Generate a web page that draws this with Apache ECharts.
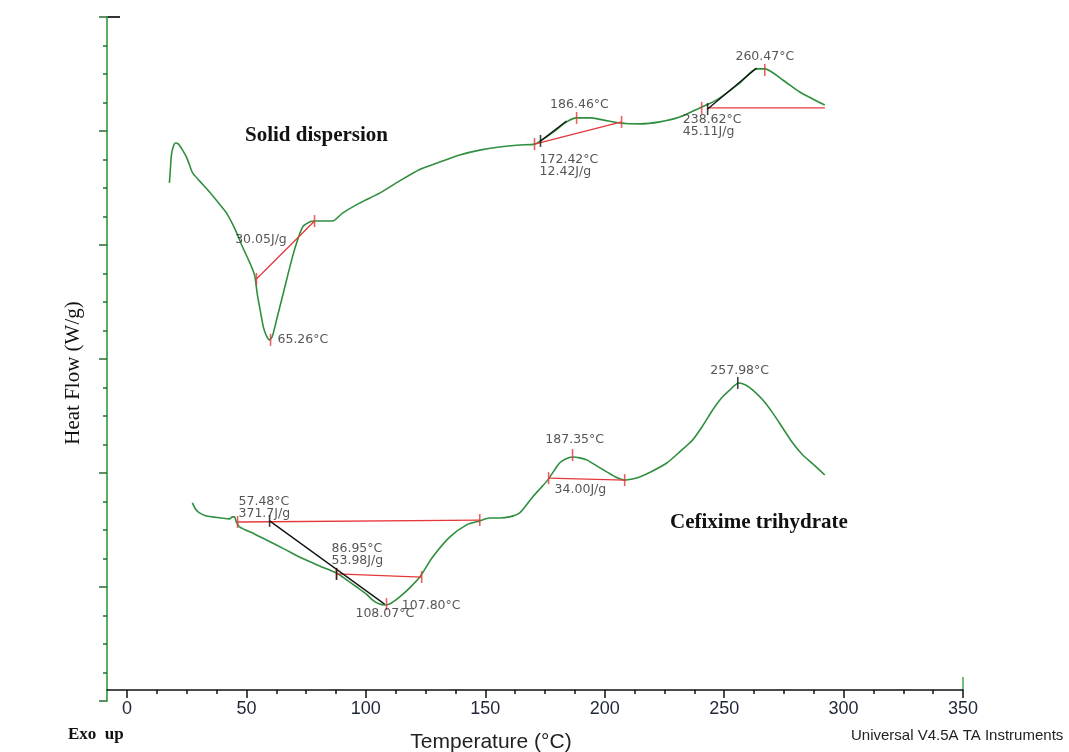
<!DOCTYPE html>
<html><head><meta charset="utf-8">
<script src="https://cdn.jsdelivr.net/npm/echarts@6/dist/echarts.min.js"></script>
<style>html,body{margin:0;padding:0;background:#fff}#c{width:1069px;height:752px}</style>
</head><body><div id="c"></div>
<script>
// Solid dispersion curve (temperature °C, heat flow arbitrary units)
const solidT = [18.1,18.5,18.95,19.8,20.6,21.9,23.6,25.2,26.5,27.8,30.7,34.9,39.0,42.0,45.3,48.7,51.6,53.7,54.9,56.2,57.4,58.7,60.0,61.2,62.9,65.0,67.1,69.2,71.3,73.8,76.7,78.8,83.0,86.3,90.5,97.6,106.0,114.4,122.8,131.1,139.5,147.9,156.2,164.6,170.8,173.8,179.2,184.2,188.4,193.9,199.3,206.4,214.8,223.2,231.5,239.9,247.0,256.6,263.7,267.1,274.6,281.7,292.2];
const solidHF = [18.18,18.65,19.16,19.47,19.58,19.54,19.33,19.09,18.81,18.53,18.25,17.86,17.44,17.12,16.60,15.93,15.40,14.95,14.25,13.65,13.12,12.81,12.67,12.81,13.37,14.07,14.77,15.47,16.07,16.63,16.81,16.84,16.84,16.84,17.12,17.47,17.82,18.25,18.65,18.91,19.16,19.33,19.44,19.51,19.54,19.68,20.0,20.32,20.46,20.46,20.39,20.28,20.25,20.32,20.49,20.81,21.09,21.68,22.18,22.18,21.79,21.37,20.91];
// Cefixime trihydrate curve
const cefT = [27.7,29.0,30.7,33.6,36.1,39.9,43.2,44.5,45.3,46.1,47.4,53.7,58.7,66.2,72.5,80.9,88.0,92.2,96.4,100.5,103.1,106.0,108.5,111.0,114.4,118.5,122.8,128.2,135.3,142.4,147.9,152.0,156.2,160.4,164.6,170.0,173.0,176.3,179.2,181.3,183.8,186.7,189.7,192.6,196.8,201.0,204.7,208.5,211.8,214.8,220.2,226.1,231.5,236.9,241.1,245.3,249.0,252.4,256.2,259.1,262.1,266.3,270.4,274.6,278.8,283.0,287.2,292.2];
const cefHF = [6.95,6.74,6.60,6.49,6.46,6.42,6.39,6.46,6.46,6.28,6.11,5.86,5.65,5.33,5.05,4.74,4.49,4.25,4.0,3.75,3.54,3.40,3.37,3.44,3.65,3.96,4.35,5.05,5.75,6.18,6.32,6.42,6.42,6.46,6.60,7.16,7.44,7.75,8.11,8.35,8.49,8.56,8.53,8.46,8.25,8.04,7.86,7.75,7.79,7.86,8.07,8.35,8.74,9.16,9.65,10.21,10.63,10.91,11.16,11.09,10.91,10.56,10.11,9.58,9.05,8.63,8.32,7.93];

// analysis baselines / tangents
const redSegments = [
  [[54.5,14.81],[78.8,16.84]],
  [[170.8,19.54],[207.2,20.32]],
  [[243.2,20.81],[292.2,20.81]],
  [[46.6,6.28],[147.9,6.35]],
  [[88.0,4.46],[123.6,4.35]],
  [[176.7,7.82],[208.5,7.75]]
];
const blackSegments = [
  [[173.3,19.65],[184.2,20.35]],
  [[243.2,20.77],[263.7,22.21]],
  [[60.0,6.32],[108.1,3.40]]
];
const redTicks = [[54.5,14.81],[78.8,16.84],[60.4,12.67],[170.8,19.54],[188.4,20.46],[207.2,20.32],[240.7,20.81],[267.1,22.14],[46.6,6.28],[147.9,6.35],[88.0,4.46],[123.6,4.35],[108.9,3.40],[176.7,7.82],[208.5,7.75],[186.7,8.63]];
const blackTicks = [[173.3,19.65],[243.2,20.77],[60.0,6.32],[88.0,4.46],[255.8,11.16]];

// annotation texts
const annoText = ['30.05J/g','65.26°C','186.46°C','172.42°C','12.42J/g','260.47°C','238.62°C','45.11J/g','57.48°C','371.7J/g','86.95°C','53.98J/g','107.80°C','108.07°C','34.00J/g','187.35°C','257.98°C'];
const annoPos = [[45.6,16.18],[63.3,12.67],[189.6,20.91],[172.9,18.98],[172.9,18.56],[267.1,22.6],[232.8,20.39],[232.8,19.96],[47.0,6.98],[47.0,6.56],[85.9,5.33],[85.9,4.91],[115.3,3.33],[95.9,3.05],[179.2,7.40],[187.6,9.16],[256.6,11.58]];
const annoAlign = ['left','left','center','left','left','center','left','left','left','left','left','left','left','left','left','center','center'];

const zip = (a,b) => a.map((v,i)=>[v,b[i]]);
const GREEN = '#2f8f3f', RED = '#e5383b';
const sans = '"Liberation Sans", Arial, sans-serif';
const wide = '"DejaVu Sans", Verdana, sans-serif';
const serif = '"Liberation Serif", "Times New Roman", serif';

const series = [
  {type:'line', name:'Solid dispersion', data:zip(solidT,solidHF), showSymbol:false, symbol:'none', smooth:0.25, lineStyle:{color:GREEN,width:1.6}, xAxisIndex:0, yAxisIndex:0, z:3},
  {type:'line', name:'Cefixime trihydrate', data:zip(cefT,cefHF), showSymbol:false, symbol:'none', smooth:0.25, lineStyle:{color:GREEN,width:1.6}, xAxisIndex:0, yAxisIndex:0, z:3}
];
redSegments.forEach(s=>series.push({type:'line', data:s, symbol:'none', lineStyle:{color:RED,width:1.3}, xAxisIndex:0, yAxisIndex:0, z:4}));
blackSegments.forEach(s=>series.push({type:'line', data:s, symbol:'none', lineStyle:{color:'#111',width:1.3}, xAxisIndex:0, yAxisIndex:0, z:4}));
series.push({type:'scatter', data:redTicks, symbol:'rect', symbolSize:[1.6,12], itemStyle:{color:RED}, xAxisIndex:0, yAxisIndex:0, z:5, silent:true});
series.push({type:'scatter', data:blackTicks, symbol:'rect', symbolSize:[1.6,12], itemStyle:{color:'#111'}, xAxisIndex:0, yAxisIndex:0, z:5, silent:true});
series.push({type:'scatter', xAxisIndex:0, yAxisIndex:0, z:6, silent:true, symbolSize:0, itemStyle:{color:'transparent'},
  data: annoText.map((t,i)=>({value:annoPos[i], label:{formatter:t, align:annoAlign[i]}})),
  label:{show:true, position:[0,0], verticalAlign:'middle', fontFamily:wide, fontSize:12.5, color:'#2b2b2b'}
});

const chart = echarts.init(document.getElementById('c'), null, {renderer:'canvas'});
chart.setOption({
  backgroundColor:'#fff',
  animation:false,
  grid:[
    {left:107, top:17, width:856, height:673, containLabel:false, outerBoundsMode:'none'},
    {left:127, top:17, width:836, height:673, containLabel:false, outerBoundsMode:'none'},
    {left:107, top:17, width:100, height:684, containLabel:false, outerBoundsMode:'none'}
  ],
  xAxis:[
    {gridIndex:0, type:'value', min:-8, max:350, axisLine:{show:true, lineStyle:{color:'#111', width:1.5}}, axisTick:{show:false}, axisLabel:{show:false}, splitLine:{show:false}},
    {gridIndex:1, type:'value', min:0, max:350, interval:50, axisLine:{show:false}, 
     axisTick:{show:true, length:8, lineStyle:{color:'#111', width:1.5}},
     minorTick:{show:true, splitNumber:4, length:4, lineStyle:{color:'#111', width:1.5}},
     axisLabel:{show:true, margin:10, fontFamily:sans, fontSize:18, color:'#1f2638'},
     splitLine:{show:false}, minorSplitLine:{show:false}},
    {gridIndex:2, type:'value', show:false}
  ],
  yAxis:[
    {gridIndex:0, type:'value', min:0.386, max:24, show:false},
    {gridIndex:1, type:'value', min:0, max:1, show:false},
    {gridIndex:2, type:'value', min:0, max:24, interval:4, position:'left',
     axisLine:{show:true, lineStyle:{color:'#45a84e', width:1.8}},
     axisTick:{show:true, length:8, lineStyle:{color:'#2e6b35', width:1.5}},
     minorTick:{show:true, splitNumber:4, length:4, lineStyle:{color:'#2e6b35', width:1.5}},
     axisLabel:{show:false}, splitLine:{show:false}, minorSplitLine:{show:false}}
  ],
  series: series,
  graphic:[
    {type:'text', x:491, y:742, style:{text:'Temperature (°C)', font:'21px '+sans, fill:'#222', textAlign:'center', textVerticalAlign:'middle'}},
    {type:'text', x:73, y:373, rotation:Math.PI/2, style:{text:'Heat Flow (W/g)', font:'21px '+serif, fill:'#111', textAlign:'center', textVerticalAlign:'middle'}},
    {type:'text', left:245, top:125, style:{text:'Solid dispersion', font:'bold 21px '+serif, fill:'#111'}},
    {type:'text', left:670, top:512, style:{text:'Cefixime trihydrate', font:'bold 21px '+serif, fill:'#111'}},
    {type:'text', left:68, top:726, style:{text:'Exo  up', font:'bold 17px '+serif, fill:'#111'}},
    {type:'text', left:851, top:728, style:{text:'Universal V4.5A TA Instruments', font:'15px '+sans, fill:'#222'}},
    {type:'line', shape:{x1:107, y1:17, x2:120, y2:17}, style:{stroke:'#333', lineWidth:2}},
    {type:'line', shape:{x1:963, y1:677, x2:963, y2:690}, style:{stroke:'#45a84e', lineWidth:1.5}}
  ]
});
</script></body></html>
